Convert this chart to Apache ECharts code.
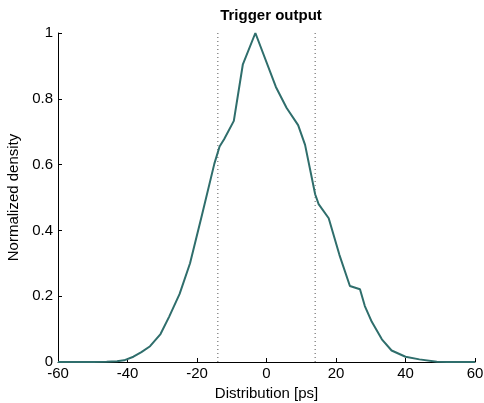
<!DOCTYPE html>
<html>
<head>
<meta charset="utf-8">
<script src="https://cdn.jsdelivr.net/npm/echarts@6/dist/echarts.min.js"></script>
<style>
    html, body { margin: 0; padding: 0; background: #fff; }
    #chart { width: 484px; height: 403px; }
</style>
</head>
<body>
<div id="chart"></div>
<script>
// distribution in ps, normalized density
const timePs = [-60, -50, -46, -43, -41, -38.3, -36, -33.5, -30.5, -28, -25, -22, -18.5, -15, -13.5, -12.2,
    -9.4, -6.8, -3.2, 2.7, 5.8, 9.1, 11.1, 14.0, 15.0, 17.9, 21, 24.0, 26.9, 28.3, 30.3, 33.2, 36, 40, 44, 49, 52, 60];
const density = [0, 0, 0.001, 0.002, 0.005, 0.016, 0.03, 0.048, 0.085, 0.138, 0.207, 0.3, 0.45, 0.603, 0.655, 0.677,
    0.733, 0.905, 1.0, 0.836, 0.772, 0.72, 0.66, 0.51, 0.48, 0.437, 0.325, 0.231, 0.221, 0.17, 0.122, 0.069, 0.035, 0.016, 0.008, 0.001, 0, 0];
const thresholds = [-14, 14];
const xTicks = [-60, -40, -20, 0, 20, 40, 60];
const yTicks = [0, 0.2, 0.4, 0.6, 0.8, 1];

const chart = echarts.init(document.getElementById('chart'));
const font = 'Liberation Sans, Arial, sans-serif';

const curve = timePs.map((t, i) => [t, density[i]]);
const dotted = thresholds.map((t) => ({
    type: 'line',
    data: [[t, 0], [t, 1]],
    symbol: 'none',
    silent: true,
    lineStyle: {color: '#555', width: 1, type: [1, 3]},
    z: 1,
}));

chart.setOption({
    animation: false,
    title: {
        text: 'Trigger output',
        left: 266,
        textAlign: 'center',
        top: 3,
        textStyle: {fontFamily: font, fontSize: 15, fontWeight: 'bold', color: '#000'},
    },
    grid: {left: 58, right: 9, top: 33, bottom: 41, outerBoundsMode: 'none', containLabel: false},
    xAxis: {
        type: 'value',
        min: -60, max: 60, interval: 20,
        name: 'Distribution [ps]',
        nameLocation: 'middle',
        nameGap: 24,
        nameTextStyle: {fontFamily: font, fontSize: 15, color: '#000'},
        axisLine: {onZero: false, lineStyle: {color: '#000', width: 1}},
        axisTick: {inside: true, length: 4, lineStyle: {color: '#000'}},
        axisLabel: {
            fontFamily: font, fontSize: 15, color: '#000', margin: 4,
            formatter: (v) => xTicks.includes(v) ? String(v) : '',
        },
        splitLine: {show: false},
    },
    yAxis: {
        type: 'value',
        min: 0, max: 1, interval: 0.2,
        name: 'Normalized density',
        nameLocation: 'middle',
        nameGap: 37,
        nameTextStyle: {fontFamily: font, fontSize: 15, color: '#000'},
        axisLine: {show: true, onZero: false, lineStyle: {color: '#000', width: 1}},
        axisTick: {show: true, inside: true, length: 4, lineStyle: {color: '#000'}},
        axisLabel: {
            fontFamily: font, fontSize: 15, color: '#000', margin: 5,
            formatter: (v) => {
                const t = yTicks.find((y) => Math.abs(y - v) < 1e-9);
                return t === undefined ? '' : String(t);
            },
        },
        splitLine: {show: false},
    },
    series: [
        ...dotted,
        {
            type: 'line',
            data: curve,
            symbol: 'none',
            lineStyle: {color: '#2f6e6c', width: 2},
            z: 3,
        },
    ],
});
</script>
</body>
</html>
